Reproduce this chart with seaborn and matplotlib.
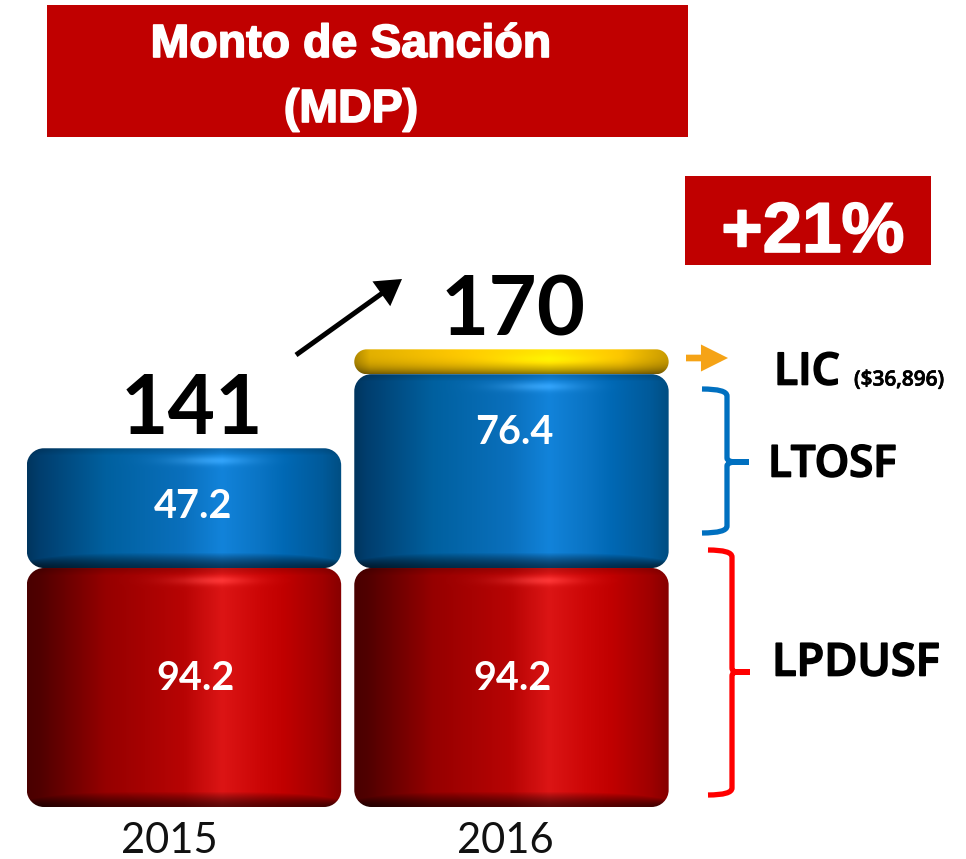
import numpy as np
import pandas as pd
import seaborn as sns
import matplotlib.pyplot as plt
import matplotlib.patheffects as pe
from matplotlib.colors import to_rgb
from matplotlib.patches import FancyArrowPatch, PathPatch, Rectangle
from matplotlib.path import Path
from matplotlib.transforms import IdentityTransform

# Data
years = ["2015", "2016"]
lpdusf = [94.2, 94.2]
ltosf = [47.2, 76.4]
lic_year = ["2016"]
lic_height = [9.8]  # drawn height of the cap, the real amount is only 36,896
totals = ["141", "170"]
growth = "+21%"
title_lines = ["Monto de Sanción", "(MDP)"]

sns.set_theme(style="white")
plt.rcParams["font.family"] = ["Lato", "DejaVu Sans"]

RED = [(0, "#4a0000"), (0.04, "#500000"), (0.25, "#960000"), (0.5, "#b80404"), (0.62, "#dc1515"),
       (0.74, "#cc0606"), (0.82, "#c00000"), (0.94, "#a00000"), (1, "#860000")]
BLUE = [(0, "#00355e"), (0.04, "#003e6e"), (0.25, "#00609f"), (0.5, "#0a70bd"), (0.62, "#1283da"),
        (0.74, "#0a74c4"), (0.82, "#0068b4"), (0.94, "#005a9a"), (1, "#004e82")]
GOLD = [(0, "#a88200"), (0.05, "#d8a800"), (0.3, "#f0bc00"), (0.62, "#ffdc00"), (0.85, "#f0bc00"),
        (1, "#c09400")]


def shade(stops, w, h, cap=False):
    # build the cylinder look as an image, one pixel per figure pixel
    pos = [s[0] for s in stops]
    cols = np.array([to_rgb(s[1]) for s in stops])
    xs = np.linspace(0, 1, w)
    row = np.stack([np.interp(xs, pos, cols[:, i]) for i in range(3)], axis=1)
    img = np.repeat(row[None, :, :], h, axis=0)
    ys = np.arange(h)[:, None]
    xx = xs[None, :]
    if cap:
        fac = 1.05 - 0.55 * (ys / h) ** 3
        fac = fac * np.ones_like(xx)
        glow = np.exp(-((ys - h * 0.42) / (h * 0.2)) ** 2) * np.exp(-((xx - 0.62) / 0.18) ** 2)
        img = img * fac[:, :, None] + glow[:, :, None] * np.array([0.05, 0.08, 0.0])
    else:
        bottom = np.clip((h - ys) / 16.0, 0, 1)
        curve = 1 - 0.5 * (2 * xx - 1) ** 4
        fac = np.where(bottom < curve, 0.42 + 0.58 * (bottom / curve) ** 1.5, 1.0)
        top = np.clip(ys / 7.0, 0, 1)
        fac = fac * (0.85 + 0.15 * top)
        glow = np.exp(-((ys - 12) / 4.5) ** 2) * np.exp(-((xx - 0.58) / 0.14) ** 2)
        light = img.max(axis=2, keepdims=True) * 0.16
        img = img * fac[:, :, None] + glow[:, :, None] * light
    return np.clip(img, 0, 1)


def rounded(x0, y0, x1, y1, r):
    # rounded rectangle with true circular corners, in figure pixels
    k = r * 0.45
    verts = [(x0 + r, y0), (x1 - r, y0), (x1 - k, y0), (x1, y0 + k), (x1, y0 + r),
             (x1, y1 - r), (x1, y1 - k), (x1 - k, y1), (x1 - r, y1),
             (x0 + r, y1), (x0 + k, y1), (x0, y1 - k), (x0, y1 - r),
             (x0, y0 + r), (x0, y0 + k), (x0 + k, y0), (x0 + r, y0)]
    codes = [Path.MOVETO] + [Path.LINETO, Path.CURVE4, Path.CURVE4, Path.CURVE4] * 4
    return PathPatch(Path(verts, codes), transform=IdentityTransform())


fig = plt.figure(figsize=(9.66, 8.59), dpi=100)
ax = fig.add_axes([0, 0, 1, 1])

bottoms = np.array(lpdusf)
sns.barplot(x=years, y=lpdusf, order=years, width=0.96, color="#c00000", saturation=1, ax=ax)
sns.barplot(x=years, y=ltosf, order=years, bottom=bottoms, width=0.96, color="#0a70bd", saturation=1, ax=ax)
lic_bottom = lpdusf[1] + ltosf[1]
sns.barplot(x=lic_year, y=lic_height, order=years, bottom=lic_bottom, width=0.96, color="#e8b400", saturation=1, ax=ax)

ax.set_xlim(-0.5618, 2.388)
ax.set_ylim(-20.5, 318.1)
ax.axis("off")

# swap the flat bars for shaded rounded ones
looks = [RED, RED, BLUE, BLUE, GOLD]
radius = [17, 17, 17, 17, 12.4]
for bar, stops, r in zip(list(ax.patches), looks, radius):
    x0, y0 = bar.get_x(), bar.get_y()
    x1, y1 = x0 + bar.get_width(), y0 + bar.get_height()
    (px0, py0), (px1, py1) = ax.transData.transform([(x0, y0), (x1, y1)])
    w, h = int(round(px1 - px0)), int(round(py1 - py0))
    im = ax.imshow(shade(stops, w, h, cap=stops is GOLD), extent=[x0, x1, y0, y1], aspect="auto",
                   interpolation="bilinear", zorder=3)
    im.set_clip_path(rounded(px0, py0, px1, py1, r))
    bar.set_facecolor("none")
ax.set_xlim(-0.5618, 2.388)
ax.set_ylim(-20.5, 318.1)

# overlay in picture pixels for the labels and decoration
top = fig.add_axes([0, 0, 1, 1], zorder=5)
top.set_xlim(0, 966)
top.set_ylim(859, 0)
top.axis("off")
top.patch.set_alpha(0)

top.add_patch(Rectangle((47, 5), 641, 132, color="#c00000", lw=0))
top.add_patch(Rectangle((685, 176), 246, 89, color="#c00000", lw=0))
fat = [pe.withStroke(linewidth=1.2, foreground="white")]
top.text(351, 45, title_lines[0], ha="center", va="center", color="white", fontsize=33.5, fontweight="bold",
         family="Liberation Sans", path_effects=fat)
top.text(351, 110, title_lines[1], ha="center", va="center", color="white", fontsize=33.5, fontweight="bold",
         family="Liberation Sans", path_effects=fat)
top.text(813, 234, growth, ha="center", va="center", color="white", fontsize=51, fontweight="bold",
         family="Liberation Sans", path_effects=fat)

top.text(192, 410, totals[0], ha="center", va="center", color="black", fontsize=59, fontweight="bold")
top.text(513, 312, totals[1], ha="center", va="center", color="black", fontsize=60, fontweight="bold")

for x, y, v in [(193, 506, ltosf[0]), (514, 432, ltosf[1]), (196, 679, lpdusf[0]), (513, 679, lpdusf[1])]:
    top.text(x, y, f"{v}", ha="center", va="center", color="white", fontsize=28.5, fontweight="bold")

top.text(169, 841, years[0], ha="center", va="center", color="#111111", fontsize=30)
top.text(505, 841, years[1], ha="center", va="center", color="#111111", fontsize=30)

dark = [pe.withStroke(linewidth=1.2, foreground="black")]
top.text(774, 373, "LIC", ha="left", va="center", color="black", fontsize=32, family="Open Sans",
         fontweight="semibold", path_effects=dark)
top.text(854, 380, "($36,896)", ha="left", va="center", color="black", fontsize=15, family="Open Sans",
         fontweight="semibold", path_effects=[pe.withStroke(linewidth=0.5, foreground="black")])
top.text(768, 465, "LTOSF", ha="left", va="center", color="black", fontsize=31.5, family="Open Sans",
         fontweight="semibold", path_effects=dark)
top.text(772, 664, "LPDUSF", ha="left", va="center", color="black", fontsize=32.5, family="Open Sans",
         fontweight="semibold", path_effects=dark)

# arrows
top.add_patch(FancyArrowPatch((296, 355), (402, 279), arrowstyle="-|>,head_length=10,head_width=6",
                              color="black", lw=3.6, shrinkA=0, shrinkB=0, mutation_scale=1.3,
                              capstyle="butt", joinstyle="miter"))
top.add_patch(FancyArrowPatch((686, 358), (728, 358), arrowstyle="-|>,head_length=9,head_width=4.5",
                              color="#f5a316", lw=4.8, shrinkA=0, shrinkB=0, mutation_scale=1.3,
                              capstyle="butt", joinstyle="miter"))


def brace(x_end, x_mid, x_tip, y_top, y_mid, y_bot, color):
    verts = [(x_end, y_top), (x_mid, y_top), (x_mid, y_top + 7), (x_mid, y_mid - 4), (x_mid, y_mid),
             (x_tip - 12, y_mid), (x_tip, y_mid), (x_tip - 12, y_mid), (x_mid, y_mid), (x_mid, y_mid + 4),
             (x_mid, y_bot - 7), (x_mid, y_bot), (x_end, y_bot)]
    codes = [Path.MOVETO, Path.CURVE3, Path.CURVE3, Path.LINETO, Path.CURVE3, Path.CURVE3, Path.LINETO,
             Path.LINETO, Path.CURVE3, Path.CURVE3, Path.LINETO, Path.CURVE3, Path.CURVE3]
    top.add_patch(PathPatch(Path(verts, codes), fc="none", ec=color, lw=3.8, capstyle="butt"))


brace(702, 727, 749, 389, 462, 533, "#0070c0")
brace(708, 732, 750, 550, 672, 795, "#ff0000")

plt.savefig("out.png", dpi=100)
